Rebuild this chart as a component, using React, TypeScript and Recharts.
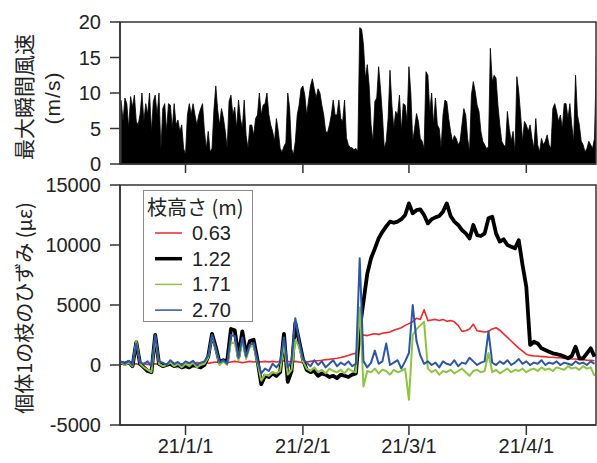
import React from 'react';
import { AreaChart, Area, LineChart, Line, XAxis, YAxis, ReferenceArea } from 'recharts';

// ---- shared x axis (days since 2021-01-01) ----
const X_MIN = -17.3;
const X_MAX = 108.4;
const MONTH_TICKS = [0, 31, 59, 90];
const MONTH_LABELS = ['21/1/1', '21/2/1', '21/3/1', '21/4/1'];

// ---- wind (top panel) ----
const WIND_START_DAY = -17;
const WIND_STEP_DAYS = 0.5;
const WIND_TICKS = [0, 5, 10, 15, 20];
const windValues = [
  9, 6, 9.3, 8.5, 5, 9.5, 8, 9.7, 6, 5.5, 7, 10, 6, 8.5, 7, 10, 4.5, 8.8, 9.7, 6.9,
  10, 2, 7.8, 8.5, 4.6, 8.5, 8.3, 5, 8.5, 5.5, 6.2, 4.6, 5.5, 2.2, 1.3, 6.9, 8.5, 7, 8.5, 6.9,
  5.5, 6.9, 7.8, 8.5, 4.6, 2.2, 4.6, 1.7, 2.2, 7.6, 11, 7.6, 5.5, 7.8, 6.5, 4.6, 2.2, 8.8, 9.7, 6.9,
  8, 5, 9,
  6.4, 5, 9, 4, 2.2, 5.5, 5.5, 4, 6.4, 6.9, 10, 6.9, 8.3, 8.5, 10, 7, 5.5, 4.6, 3.2, 6.4,
  4.6, 2.2, 1.7, 2.5, 3, 10, 7.8, 2.2, 1.3, 3.2, 6.9, 8.3, 10.6, 11, 9.7, 6.9, 9, 11, 12, 10.6,
  9.3, 10.6, 10, 8.3, 6.9, 4.6, 4.4, 5.5, 6.9, 9, 6.9, 6.9, 9, 6.4, 6, 9, 3.7, 2.7, 2.3, 2.3,
  2, 2.2, 1.8, 19.2,
  19, 16.8, 12, 14, 11, 5.5, 3.2, 8.8, 9.3, 13.7, 10.6, 6.9, 2.2, 3.2, 6.4, 13.2, 8.3, 5, 7.4, 6.9,
  9.7, 4.6, 8.5, 8.3, 6, 13.7, 10, 3.2, 5, 7.1, 6, 3.6, 3.2, 2.2, 13, 12.5, 7.4, 10, 5.5, 9.3,
  5.5, 5, 2.2, 6.9, 9, 8.8, 6.4, 4.6, 3.2, 4, 3.6, 2.7, 3.2, 5.5, 7.8, 6.9, 3.6, 1.7, 9.7, 11.6,
  10.2, 8.3, 7.4, 4.6,
  3.2, 2.7, 2.2, 2.4, 16.3, 11.6, 12.5, 12.1, 8.3, 5.5, 3.2, 2.7, 2.4, 7.4, 5, 3.2, 4.6, 1.7, 12.3, 10.2,
  6.9, 3.2, 6, 5.5, 4.6, 5.5, 3.6, 2.2, 6.4, 2.7, 1.7, 3.6, 2.7, 3.2, 4.1, 2.7, 2.2, 7.8, 8.5, 7.4,
  6, 6.9, 5, 8.5, 8.5, 6.4, 8.5, 5.5, 3.2, 12.5, 6.9, 5.5, 3.2, 2.7, 1.7, 2.2, 3.2, 2.7, 2.2, 3.6,
  14.6,
];

// ---- strain (bottom panel), one value per day from STRAIN_START_DAY ----
const STRAIN_START_DAY = -17;
const STRAIN_TICKS = [-5000, 0, 5000, 10000, 15000];
const strain063 = [
  100, 0, 150, 50, 100, 0, 100, 50, 0, 100, 50, 100, 0, 50, 100, 50, 100,
  100, 150, 100, 200, 150, 200, 150, 200, 250, 200, 250, 200, 250, 300, 250, 200, 250, 300, 250, 300,
  250, 300, 250, 300, 250, 300, 350, 300, 250, 300, 250, 200,
  250, 300, 350, 360, 400, 450, 470, 520, 560, 620, 700, 800, 920, 970,
  2300, 2500, 2450, 2550, 2600, 2550, 2650, 2700, 2750, 2900, 3000, 3100, 3300, 3450, 3600, 3900, 3800, 4600,
  3700, 3750, 3800, 3700, 3800, 3650, 3700, 3600, 3300, 2800, 2850, 3000, 3400, 2850, 2800, 2750, 2800, 3000,
  3100, 2900, 2600, 2300, 2000, 1700, 1400, 1150, 900,
  800, 750, 750, 700, 700, 650, 650, 600, 600, 550, 550, 500, 500, 450, 450, 400, 400, 350,
];
const strain122 = [
  200, 100, 250, -100, 1900, 100, -200, -500, -600, 2500, 100, -100, 0, 100, -100, 0, -200,
  -100, -200, 0, -100, -200, 0, 700, 2600, 1500, 200, 400, 300, 3000, 2900, 700, 2800, 900, 2000, 2100, 400,
  -1600, -900, -1000, -700, -900, -600, 2600, -1400, -500, 3500, 2000, 500,
  -400, -600, -500, -900, -700, -800, -1000, -900, -1100, -800, -900, -1000, -800, -700,
  3000, 5300, 7600, 8900, 9700, 10550, 11100, 11550, 11950, 11850, 11950, 12150, 12500, 13470, 12640, 12900, 12970, 12500,
  11800, 12150, 12300, 12420, 12780, 13470, 12420, 11950, 11670, 11250, 10970, 10550, 11670, 10830, 10750, 10970, 12220, 12360,
  10970, 10280, 10470, 10000, 9860, 9720, 10400, 8330, 6500,
  1670, 1940, 1800, 1390, 1250, 1110, 970, 900, 830, 700, 560, 750, 1530, 560, 560, 970, 1390, 700,
];
const strain171 = [
  200, 0, 200, -100, 2000, 100, -200, -400, -600, 2300, 100, -100, 0, 200, -100, 100, -200,
  100, -100, 200, -200, 0, 100, 600, 2400, 1300, 0, 300, 0, 1900, 1800, 400, 2000, 500, 1500, 1600, 200,
  -1300, -800, -900, -600, -700, -500, 1800, -800, -400, 2100, 1500, 300,
  -300, -500, -200, -600, -400, -700, -300, -500, -600, -400, -700, -300, -500, -600,
  4800, -1800, -500, -600, -300, -700, -400, -500, -800, -400, -600, -500, -300, -2900, 2500, 3000, 3300, 3600,
  -300, -600, -400, -800, -500, -600, -400, -700, -500, -300, -600, -900, -500, -400, -600, -500, 1000, -600,
  -400, -700, -500, -300, -600, -400, -500, -300, -600,
  -400, -300, -500, -200, -400, -300, -500, -200, -300, -400, -100, -300, -200, -400, -100, -300, -200, -900,
];
const strain270 = [
  300, 100, 350, 0, 1800, 200, 100, 300, -100, 2500, 300, 200, 0, 400, 100, 250, 0,
  300, 150, 350, 0, 200, 300, 800, 2500, 1400, 200, 400, 100, 2500, 2400, 600, 2300, 700, 1700, 1800, 400,
  -700, -300, -500, 100, -200, 200, 2300, -200, 300, 3900, 2000, 500,
  200, -100, 400, 0, 300, -200, 100, 400, -100, 200, 0, 300, -100, 100,
  8900, 300, -200, 200, 1200, 100, 300, 1800, 0, 200, 400, -300, 300, 1000, 5000, 2000, 800, 100,
  300, 0, 200, -200, 300, 100, 0, 400, -100, 200, 100, 600, 300, 0, 200, 300, 2800, 200,
  0, 300, 100, 400, 0, 200, 500, 100, 300,
  0, 200, 100, 400, 0, 200, 100, 300, 0, 200, 100, 0, 300, 100, 200, 0, 300, 100,
];

const SERIES = [
  { key: 'h063', name: '0.63', color: '#f2262b', width: 1.6, legendWidth: 1.5, values: strain063 },
  { key: 'h122', name: '1.22', color: '#000000', width: 3.8, legendWidth: 3.5, values: strain122 },
  { key: 'h171', name: '1.71', color: '#8cc63e', width: 2, legendWidth: 1.5, values: strain171 },
  { key: 'h270', name: '2.70', color: '#2c57a8', width: 2, legendWidth: 1.5, values: strain270 },
];

const windData = windValues.map((v, i) => ({ day: WIND_START_DAY + i * WIND_STEP_DAYS, v }));
const strainData = strain122.map((_, i) => {
  const row: Record<string, number> = { day: STRAIN_START_DAY + i };
  SERIES.forEach((s) => { row[s.key] = s.values[i]; });
  return row;
});

const FONT = '"Liberation Sans", Arial, "Noto Sans CJK JP", sans-serif';
const JP_FONT = '"Noto Sans CJK JP", "Liberation Sans", sans-serif';
const AX = '#333333';
const TICK_STYLE = { fill: '#222222', fontSize: 20, fontFamily: FONT };

export default function App() {
  return (
    <div style={{ position: 'absolute', left: 0, top: 0, width: 597, height: 463, background: '#fff', overflow: 'hidden' }}>
      <div style={{ position: 'absolute', left: 0, top: 0 }}>
        <AreaChart width={597} height={174} data={windData} margin={{ top: 22, right: 1, bottom: 0, left: 0 }}>
          <XAxis dataKey="day" type="number" domain={[X_MIN, X_MAX]} ticks={MONTH_TICKS} allowDataOverflow interval={0}
            tickFormatter={() => ''} tickSize={9} height={10}
            axisLine={{ stroke: AX, strokeWidth: 1.5 }} tickLine={{ stroke: AX, strokeWidth: 1.5 }} />
          <YAxis type="number" domain={[0, 20]} ticks={WIND_TICKS} width={120} tickSize={10} tickMargin={9} interval={0}
            tick={TICK_STYLE} axisLine={{ stroke: AX, strokeWidth: 1.5 }} tickLine={{ stroke: AX, strokeWidth: 1.5 }} />
          <Area dataKey="v" type="linear" stroke="#000" strokeWidth={0.8} fill="#000" fillOpacity={1}
            isAnimationActive={false} dot={false} activeDot={false} />
          <ReferenceArea x1={X_MIN} x2={X_MAX} y1={0} y2={20} fill="none" stroke={AX} strokeWidth={1.5} />
        </AreaChart>
      </div>
      <div style={{ position: 'absolute', left: 0, top: 170 }}>
        <LineChart width={597} height={293} data={strainData} margin={{ top: 15, right: 1, bottom: 0, left: 0 }}>
          <XAxis dataKey="day" type="number" domain={[X_MIN, X_MAX]} ticks={MONTH_TICKS} allowDataOverflow interval={0}
            tickFormatter={(d: number) => MONTH_LABELS[MONTH_TICKS.indexOf(d)]}
            tick={TICK_STYLE} tickSize={10} tickMargin={4} height={38}
            axisLine={{ stroke: AX, strokeWidth: 1.5 }} tickLine={{ stroke: AX, strokeWidth: 1.5 }} />
          <YAxis type="number" domain={[-5000, 15000]} ticks={STRAIN_TICKS} width={120} tickSize={10} tickMargin={9} interval={0}
            tick={TICK_STYLE} axisLine={{ stroke: AX, strokeWidth: 1.5 }} tickLine={{ stroke: AX, strokeWidth: 1.5 }} />
          {SERIES.map((s) => (
            <Line key={s.key} dataKey={s.key} name={s.name} type="linear" stroke={s.color} strokeWidth={s.width}
              dot={false} activeDot={false} isAnimationActive={false} strokeLinejoin="round" />
          ))}
          <ReferenceArea x1={X_MIN} x2={X_MAX} y1={-5000} y2={15000} fill="none" stroke={AX} strokeWidth={1.5} />
        </LineChart>
      </div>
      {/* axis titles */}
      <svg width={597} height={463} style={{ position: 'absolute', left: 0, top: 0, pointerEvents: 'none' }}>
        <text transform="translate(23,97) rotate(-90)" textAnchor="middle" dominantBaseline="central"
          fontSize={21} fill="#222" fontFamily={JP_FONT}>最大瞬間風速</text>
        <text transform="translate(52,98) rotate(-90)" textAnchor="middle" dominantBaseline="central"
          fontSize={21} fill="#222" fontFamily={FONT} letterSpacing={1}>(m/s)</text>
        <text transform="translate(23,308) rotate(-90)" textAnchor="middle" dominantBaseline="central"
          fontSize={20} fill="#222" fontFamily={JP_FONT}>個体1の枝のひずみ (με)</text>
      </svg>
      {/* legend */}
      <svg width={111} height={133} style={{ position: 'absolute', left: 143, top: 190 }}>
        <rect x={0.5} y={0.5} width={109} height={131} fill="#fff" stroke="#8a8a8a" strokeWidth={1} />
        <text x={4} y={25} fontSize={20} fill="#222" fontFamily={JP_FONT}>枝高さ (m)</text>
        {SERIES.map((s, i) => (
          <g key={s.key}>
            <line x1={12} x2={39} y1={43 + i * 25.7} y2={43 + i * 25.7} stroke={s.color} strokeWidth={s.legendWidth} />
            <text x={49} y={50 + i * 25.7} fontSize={20} fill="#222" fontFamily={FONT}>{s.name}</text>
          </g>
        ))}
      </svg>
    </div>
  );
}
